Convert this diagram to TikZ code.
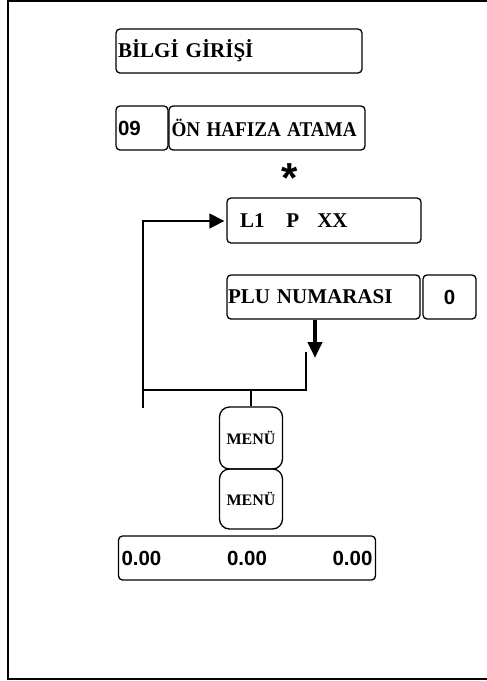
\documentclass[tikz,border=0pt]{standalone}
\usepackage{fontspec}
\setmainfont{Liberation Serif}
\newfontfamily\arialf{Liberation Sans}
\usetikzlibrary{arrows.meta}
\tikzset{
  keybox/.style={draw, line width=1.3pt, rounded corners=4pt, inner ysep=0pt, align=left,
     font=\fontsize{21}{24}\selectfont\bfseries},
  numfont/.style={font=\arialf\fontsize{20.5}{24}\selectfont\bfseries},
  menubox/.style={draw, line width=1.3pt, rounded corners=10pt, inner sep=0pt,
     minimum width=63pt, font=\fontsize{16}{18}\selectfont\bfseries},
  conn/.style={line width=1.3pt},
}
\begin{document}
\begin{tikzpicture}[x=1pt,y=-1pt]
\useasboundingbox (0,0) rectangle (487,681);
% frame
\draw[line width=1.6pt] (490,0.8) -- (8,0.8) -- (8,679) -- (490,679);
% boxes
\node[keybox, minimum height=44pt, text width=242pt, inner xsep=2pt] (bilgi) at (239,51) {BİLGİ GİRİŞİ};
\node[keybox, numfont, minimum height=44pt, text width=48pt, inner xsep=2pt] (k09) at (142,128) {09};
\node[keybox, minimum height=44pt, text width=191pt, inner xsep=2.5pt] (onhaf) at (267,128) {\scalebox{0.91}[1]{ÖN HAFIZA ATAMA}};
\node[font=\arialf\fontsize{42}{42}\selectfont\bfseries, inner sep=0pt, anchor=base] (star) at (289.5,192) {*};
\node[keybox, minimum height=45pt, text width=168pt, inner xsep=13pt] (l1) at (324,220.5) {L1\hspace{22pt}P\hspace{18pt}XX};
\node[keybox, minimum height=44pt, text width=191pt, inner xsep=1pt] (plu) at (323.5,297) {PLU NUMARASI};
\node[keybox, numfont, minimum height=44pt, minimum width=53pt, inner xsep=0pt, align=center] (zero) at (449.5,297) {0};
\node[menubox, minimum height=62pt] (menu1) at (251,438) {MENÜ};
\node[menubox, minimum height=60pt] (menu2) at (251,499) {MENÜ};
\node[keybox, numfont, minimum height=44pt, text width=251pt, inner xsep=3pt] (disp) at (247,558) {\hbox to 251pt{0.00\hfill 0.00\hfill 0.00}};
% connectors
\coordinate (ltop) at (143,221);
\coordinate (lbot) at (143,408);
\coordinate (hl) at (143,390);
\coordinate (hr) at (306,390);
\coordinate (rtop) at (306,352);
\coordinate (jn) at (251,390);
\coordinate (ta) at (315,319);
\coordinate (tb) at (315,358);
\draw[conn, -{Triangle[length=15pt,width=15pt]}] (lbot) -- (ltop) -- ([xshift=-2pt]l1.west |- ltop);
\draw[conn] (hl) -- (hr) -- (rtop);
\draw[conn] (jn) -- (jn |- menu1.north);
\draw[line width=4pt, -{Triangle[length=16pt,width=14pt]}] (plu.south -| ta) -- (tb);
\end{tikzpicture}
\end{document}
